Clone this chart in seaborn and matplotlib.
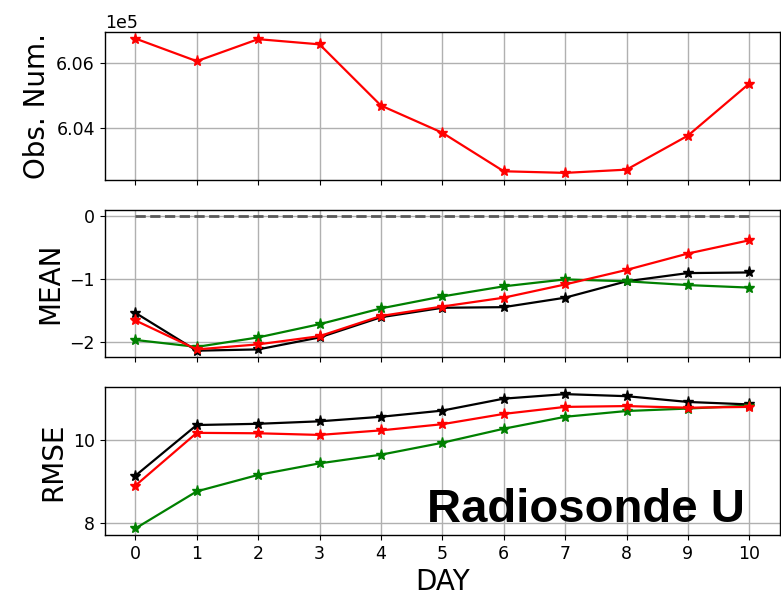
import numpy as np
import matplotlib
matplotlib.use("Agg")
import matplotlib.pyplot as plt
import matplotlib.ticker as mticker
import seaborn as sns

# data
days = list(range(11))
obs_num = [606750, 606050, 606730, 606570, 604680, 603840, 602650, 602600, 602700, 603750, 605360]

mean_black = [-1.53, -2.13, -2.11, -1.92, -1.60, -1.45, -1.44, -1.29, -1.03, -0.90, -0.89]
mean_red = [-1.65, -2.11, -2.03, -1.90, -1.58, -1.43, -1.29, -1.08, -0.85, -0.59, -0.38]
mean_green = [-1.96, -2.07, -1.92, -1.71, -1.46, -1.27, -1.11, -1.00, -1.03, -1.09, -1.13]

rmse_black = [9.14, 10.37, 10.40, 10.46, 10.57, 10.72, 11.01, 11.12, 11.07, 10.93, 10.87]
rmse_red = [8.90, 10.18, 10.17, 10.13, 10.24, 10.39, 10.64, 10.81, 10.83, 10.79, 10.81]
rmse_green = [7.86, 8.76, 9.16, 9.44, 9.65, 9.94, 10.28, 10.57, 10.71, 10.77, 10.84]

sns.set_style("ticks", {"axes.grid": True, "grid.color": "#b0b0b0",
                        "axes.edgecolor": "black", "xtick.direction": "out",
                        "ytick.direction": "out", "text.color": "black",
                        "axes.labelcolor": "black", "xtick.color": "black",
                        "ytick.color": "black"})
plt.rcParams["font.family"] = ["DejaVu Sans"]
plt.rcParams["xtick.major.size"] = 3.5
plt.rcParams["ytick.major.size"] = 3.5
plt.rcParams["xtick.labelsize"] = 12.5
plt.rcParams["ytick.labelsize"] = 12.5
plt.rcParams["grid.linewidth"] = 1.0

fig, axes = plt.subplots(3, 1, figsize=(7.81, 6.0), dpi=100, sharex=True)
fig.subplots_adjust(left=0.134, right=0.9987, top=0.947, bottom=0.108, hspace=0.203)

line_kw = dict(marker="*", markersize=8, linewidth=1.6, markeredgewidth=1)

# Obs. Num. panel
ax = axes[0]
sns.lineplot(x=days, y=obs_num, ax=ax, color="red", markeredgecolor="red", **line_kw)
ax.yaxis.set_major_locator(mticker.MultipleLocator(2000))
ax.ticklabel_format(axis="y", style="sci", scilimits=(0, 0), useOffset=False)
ax.yaxis.get_offset_text().set_fontsize(12.5)
ax.set_ylabel("Obs. Num.", fontsize=20)

# MEAN panel
ax = axes[1]
sns.lineplot(x=days, y=[0] * len(days), ax=ax, color="0.35", linestyle="--", linewidth=2)
for vals, c in [(mean_black, "black"), (mean_green, "green"), (mean_red, "red")]:
    sns.lineplot(x=days, y=vals, ax=ax, color=c, markeredgecolor=c, **line_kw)
ax.yaxis.set_major_locator(mticker.MultipleLocator(1))
ax.set_ylabel("MEAN", fontsize=20)

# RMSE panel
ax = axes[2]
for vals, c in [(rmse_black, "black"), (rmse_green, "green"), (rmse_red, "red")]:
    sns.lineplot(x=days, y=vals, ax=ax, color=c, markeredgecolor=c, **line_kw)
ax.yaxis.set_major_locator(mticker.MultipleLocator(2))
ax.set_ylabel("RMSE", fontsize=20)
ax.set_xlabel("DAY", fontsize=20)
ax.set_xticks(days)
ax.set_xlim(-0.5, 10.5)
ax.text(0.948, 0.09, "Radiosonde U", transform=ax.transAxes, ha="right", va="baseline",
        fontsize=34, fontweight="bold", color="black",
        family=["Liberation Sans", "DejaVu Sans"])

for a in axes:
    a.grid(True, color="#b0b0b0", linewidth=1.0)
    for s in a.spines.values():
        s.set_color("black")
        s.set_linewidth(1.0)

fig.savefig("out.png", dpi=100)
